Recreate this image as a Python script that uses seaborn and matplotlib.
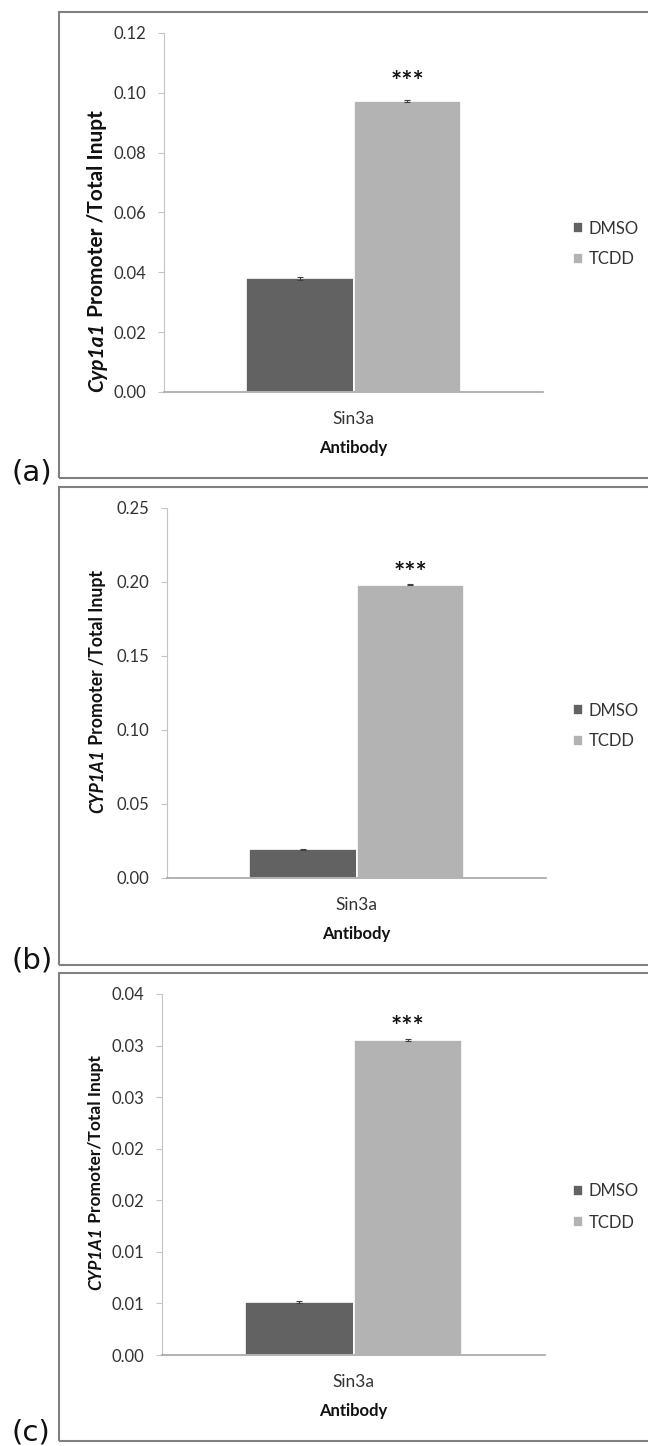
import numpy as np
import pandas as pd
import matplotlib
matplotlib.use("Agg")
import matplotlib.pyplot as plt
import seaborn as sns
from matplotlib.patches import Rectangle

# ---------------- data ----------------
antibody = ["Sin3a"]
treatments = ["DMSO", "TCDD"]
panel_labels = ["(a)", "(b)", "(c)"]
gene_labels = ["Cyp1a1", "CYP1A1", "CYP1A1"]
ylabel_rest = [" Promoter /Total Inupt", " Promoter /Total Inupt", " Promoter/Total Inupt"]
xlabel_text = "Antibody"
significance = "***"

values_a = [0.0380, 0.0973]
errors_a = [0.0004, 0.0004]
values_b = [0.0193, 0.1983]
errors_b = [0.0003, 0.0005]
values_c = [0.0051, 0.0305]
errors_c = [0.0001, 0.0001]

yticks_a = [0.00, 0.02, 0.04, 0.06, 0.08, 0.10, 0.12]
yticklabels_a = ["0.00", "0.02", "0.04", "0.06", "0.08", "0.10", "0.12"]
yticks_b = [0.00, 0.05, 0.10, 0.15, 0.20, 0.25]
yticklabels_b = ["0.00", "0.05", "0.10", "0.15", "0.20", "0.25"]
yticks_c = [0.000, 0.005, 0.010, 0.015, 0.020, 0.025, 0.030, 0.035]
yticklabels_c = ["0.00", "0.01", "0.01", "0.02", "0.02", "0.03", "0.03", "0.04"]

colors = ["#626262", "#b3b3b3"]

# ---------------- layout (pixels) ----------------
W, H = 648, 1446
def fx(x):
    return x / W
def fy(y):
    return 1 - y / H

panels = [
    dict(vals=values_a, errs=errors_a, ticks=yticks_a, tlabels=yticklabels_a,
         ax=(164, 33, 543, 392), frame=(59, 12, 478), leg=244, ylx=97, yly0=392,
         ylsize=15, lab_base=481, star_off=10),
    dict(vals=values_b, errs=errors_b, ticks=yticks_b, tlabels=yticklabels_b,
         ax=(167, 508, 546, 878), frame=(59, 487, 965), leg=726, ylx=98, yly0=813,
         ylsize=12.7, lab_base=968, star_off=3),
    dict(vals=values_c, errs=errors_c, ticks=yticks_c, tlabels=yticklabels_c,
         ax=(162, 994, 545, 1355), frame=(59, 973, 1441), leg=1207, ylx=96, yly0=1290,
         ylsize=12.5, lab_base=1441, star_off=4),
]

sns.set_style("white")
plt.rcParams["font.family"] = ["Lato", "DejaVu Sans"]

fig = plt.figure(figsize=(W / 100, H / 100), dpi=100)
fig.patch.set_facecolor("white")
renderer = fig.canvas.get_renderer()

text_color = "#333333"

for i, p in enumerate(panels):
    l, t, r, b = p["ax"]
    ax = fig.add_axes([fx(l), fy(b), (r - l) / W, (b - t) / H])
    df = pd.DataFrame({"Antibody": antibody * len(treatments),
                       "Treatment": treatments,
                       "Value": p["vals"]})
    sns.barplot(data=df, x="Antibody", y="Value", hue="Treatment",
                palette=colors, errorbar=None, width=0.567,
                edgecolor="white", linewidth=1.2, ax=ax)
    # error bars on top of each bar
    for cont, err in zip(ax.containers, p["errs"]):
        bar = cont[0]
        cx = bar.get_x() + bar.get_width() / 2
        ax.errorbar(cx, bar.get_height(), yerr=err, fmt="none",
                    ecolor="#404040", elinewidth=0.8, capsize=2.5, capthick=0.8)
    # significance stars above TCDD bar
    tbar = ax.containers[1][0]
    ax.annotate(significance,
                xy=(tbar.get_x() + tbar.get_width() / 2, tbar.get_height() + p["errs"][1]),
                xytext=(0, p["star_off"]), textcoords="offset pixels",
                ha="center", va="baseline", fontsize=19, fontweight="bold", color="#111111")

    ax.set_ylim(p["ticks"][0], p["ticks"][-1])
    ax.set_yticks(p["ticks"])
    ax.set_yticklabels(p["tlabels"])
    ax.set_xlim(-0.5, 0.5)
    ax.set_ylabel("")
    ax.set_xlabel(xlabel_text, fontsize=12, fontweight="bold", color="#111111", labelpad=9)

    for s in ["top", "right"]:
        ax.spines[s].set_visible(False)
    ax.spines["left"].set_color("#c4c4c4")
    ax.spines["left"].set_linewidth(0.8)
    ax.spines["bottom"].set_color("#a6a6a6")
    ax.spines["bottom"].set_linewidth(1.2)
    ax.tick_params(axis="y", left=True, length=4, width=0.8, color="#c4c4c4",
                   pad=9, labelsize=12, labelcolor=text_color)
    ax.tick_params(axis="x", bottom=False, length=0, pad=14, labelsize=12.5,
                   labelcolor=text_color)
    ax.set_facecolor("white")

    # legend
    handles, labels = ax.get_legend_handles_labels()
    ax.legend(handles, labels, loc="center left",
              bbox_to_anchor=(fx(573), fy(p["leg"])), bbox_transform=fig.transFigure,
              frameon=False, fontsize=12, handlelength=0.62, handleheight=0.62,
              handletextpad=0.3, labelspacing=0.9, borderpad=0, borderaxespad=0)
    for txt in ax.get_legend().get_texts():
        txt.set_color(text_color)

    # y label: italic gene name + bold rest
    t1 = fig.text(fx(p["ylx"]), fy(p["yly0"]), gene_labels[i], rotation=90,
                  ha="center", va="bottom", fontsize=p["ylsize"], fontweight="bold",
                  fontstyle="italic", color="#111111")
    bb = t1.get_window_extent(renderer)
    fig.text(fx(p["ylx"]), fy(p["yly0"]) + bb.height / H, ylabel_rest[i], rotation=90,
             ha="center", va="bottom", fontsize=p["ylsize"], fontweight="bold",
             color="#111111")

    # panel frame
    fl, ft, fb = p["frame"]
    fig.patches.append(Rectangle((fx(fl), fy(fb)), (W + 5 - fl) / W, (fb - ft) / H,
                                 transform=fig.transFigure, fill=False,
                                 edgecolor="#808080", linewidth=1.5))
    # panel label
    fig.text(fx(11), fy(p["lab_base"]), panel_labels[i], ha="left", va="baseline",
             fontsize=21, family="DejaVu Sans", color="#111111")

fig.savefig("out.png", dpi=100, facecolor="white")
